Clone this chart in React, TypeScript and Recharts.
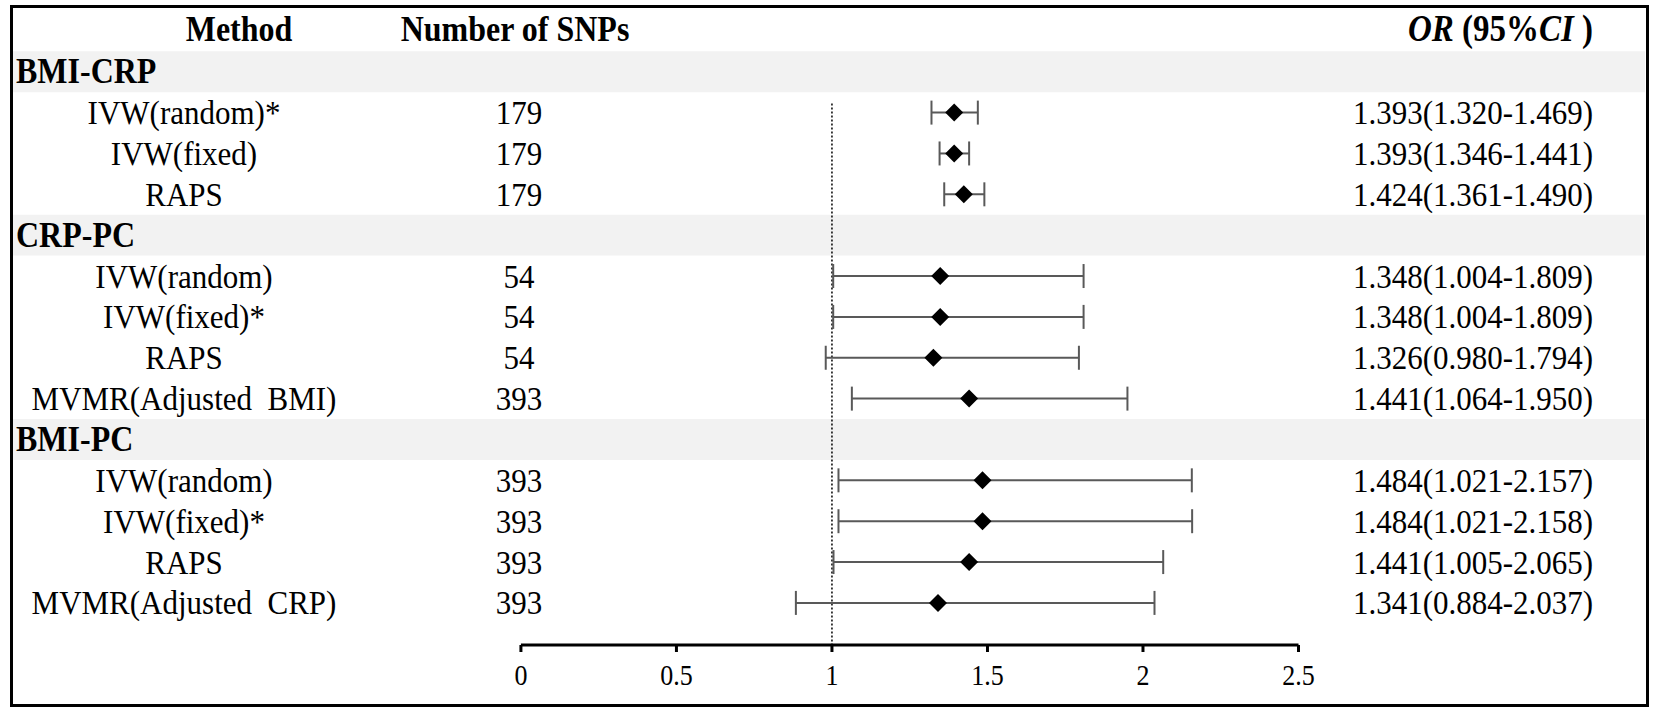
import React from 'react';
import {
  ScatterChart, Scatter, XAxis, YAxis, ErrorBar, ReferenceArea, ReferenceLine,
} from 'recharts';

// rows from top to bottom; group headers have no values
const methods = [
  'BMI-CRP', 'IVW(random)*', 'IVW(fixed)', 'RAPS',
  'CRP-PC', 'IVW(random)', 'IVW(fixed)*', 'RAPS', 'MVMR(Adjusted  BMI)',
  'BMI-PC', 'IVW(random)', 'IVW(fixed)*', 'RAPS', 'MVMR(Adjusted  CRP)',
];
const groupRows = [0, 4, 9];
const snps = [null, 179, 179, 179, null, 54, 54, 54, 393, null, 393, 393, 393, 393];
const orValues = [null, 1.393, 1.393, 1.424, null, 1.348, 1.348, 1.326, 1.441, null, 1.484, 1.484, 1.441, 1.341];
const ciLow = [null, 1.320, 1.346, 1.361, null, 1.004, 1.004, 0.980, 1.064, null, 1.021, 1.021, 1.005, 0.884];
const ciHigh = [null, 1.469, 1.441, 1.490, null, 1.809, 1.809, 1.794, 1.950, null, 2.157, 2.158, 2.065, 2.037];
const xTicks = [0, 0.5, 1, 1.5, 2, 2.5];
const xTickLabels = ['0', '0.5', '1', '1.5', '2', '2.5'];

const HEADER_ROW = -1.034;
const AXIS_ROW = 14.03;

const points = orValues
  .map((v, i) => (v == null ? null : {
    row: i,
    or: v,
    err: [v - (ciLow[i] as number), (ciHigh[i] as number) - v],
  }))
  .filter(Boolean);

// one invisible point per text row, so the text sits on the y scale
const labelRows = [HEADER_ROW, ...methods.map((_, i) => i)].map((r) => ({ row: r, or: 0 }));

const FONT = "'Liberation Serif', 'Times New Roman', serif";

const T = ({ x, y, anchor = 'middle', size = 31, bold = false, sy = 1.12, textLength, children }: any) => (
  <text
    transform={`translate(${x},${y}) scale(1,${sy})`}
    textAnchor={anchor}
    fontFamily={FONT}
    fontSize={size}
    fontWeight={bold ? 'bold' : 'normal'}
    fill="#000"
    textLength={textLength}
    lengthAdjust={textLength ? 'spacing' : undefined}
    style={{ whiteSpace: 'pre' }}
  >
    {children}
  </text>
);

const RowText = (props: any) => {
  const { cy, payload } = props;
  const v = payload.row;
  const base = cy + 11.5;
  if (v < 0) {
    return (
      <g>
        <T x={239} y={base} size={32} bold>Method</T>
        <T x={515} y={base} size={32} bold>Number of SNPs</T>
        <T x={1593} y={base} size={33} bold anchor="end">
          <tspan fontStyle="italic">OR</tspan> (95%<tspan fontStyle="italic">CI</tspan> )
        </T>
      </g>
    );
  }
  const i = Math.round(v);
  if (groupRows.includes(i)) {
    return <T x={16} y={base} anchor="start" size={32} bold>{methods[i]}</T>;
  }
  const txt = `${orValues[i]!.toFixed(3)}(${ciLow[i]!.toFixed(3)}-${ciHigh[i]!.toFixed(3)})`;
  return (
    <g>
      <T x={184} y={base}>{methods[i]}</T>
      <T x={519} y={base}>{snps[i]}</T>
      <T x={1473} y={base}>{txt}</T>
    </g>
  );
};

const AxisTick = (props: any) => {
  const { x, payload } = props;
  const idx = xTicks.indexOf(payload.value);
  return <T x={x} y={685} size={26} sy={1.15}>{xTickLabels[idx]}</T>;
};

const Diamond = (props: any) => {
  const { cx, cy } = props;
  const h = 9;
  return <path d={`M${cx},${cy - h}L${cx + h},${cy}L${cx},${cy + h}L${cx - h},${cy}Z`} fill="#000" />;
};

export default function App() {
  return (
    <div style={{ position: 'absolute', left: 0, top: 0, width: 1654, height: 711, background: '#fff' }}>
      <ScatterChart width={1654} height={711} margin={{ top: 8, right: 9, bottom: 0, left: 13 }}>
        <XAxis
          type="number"
          dataKey="or"
          domain={[-1.633, 3.614]}
          allowDataOverflow
          ticks={xTicks}
          interval={0}
          height={66}
          axisLine={false}
          tickLine={{ stroke: '#000', strokeWidth: 3 }}
          tickSize={7}
          tick={<AxisTick />}
        />
        <YAxis
          type="number"
          dataKey="row"
          domain={[-1.56, AXIS_ROW]}
          allowDataOverflow
          reversed
          hide
        />
        {groupRows.map((r) => (
          <ReferenceArea key={r} y1={r - 0.5} y2={r + 0.5} fill="#f2f2f2" fillOpacity={1} stroke="none" ifOverflow="visible" />
        ))}
        <ReferenceLine
          segment={[{ x: 1, y: 0.78 }, { x: 1, y: AXIS_ROW }]}
          stroke="#000"
          strokeWidth={1.5}
          strokeDasharray="2 2"
          ifOverflow="visible"
        />
        <ReferenceLine
          segment={[{ x: 0, y: AXIS_ROW }, { x: 2.5, y: AXIS_ROW }]}
          stroke="#000"
          strokeWidth={3}
          ifOverflow="visible"
        />
        <Scatter data={labelRows} shape={<RowText />} isAnimationActive={false} />
        <Scatter data={points as any[]} shape={<Diamond />} isAnimationActive={false}>
          <ErrorBar dataKey="err" direction="x" width={12} stroke="#595959" strokeWidth={2} isAnimationActive={false} />
        </Scatter>
      </ScatterChart>
      <div
        style={{
          position: 'absolute', left: 10, top: 5, width: 1639, height: 702,
          border: '3.5px solid #000', boxSizing: 'border-box', pointerEvents: 'none',
        }}
      />
    </div>
  );
}
